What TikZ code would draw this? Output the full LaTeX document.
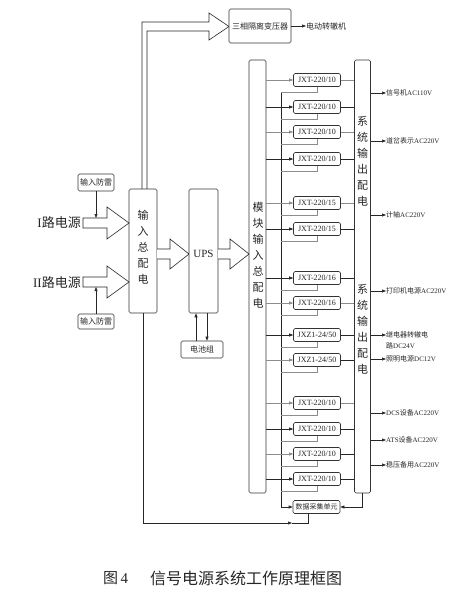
\documentclass[tikz,border=0pt]{standalone}
\usepackage{fontspec}
\setmainfont{Liberation Serif}
\newfontfamily\cjk{Noto Sans CJK SC}
\usetikzlibrary{arrows.meta}
\newcommand{\zh}[1]{{\cjk #1}}
\begin{document}
\begin{tikzpicture}[x=1pt,y=-1pt,
  ln/.style={line width=0.6pt, draw=black!85},
  lg/.style={line width=0.6pt, draw=black!45},
  tip/.style={-{Triangle[length=4pt,width=3pt]}},
  bx/.style={draw=black!80, line width=0.6pt, rounded corners=1.5pt, inner sep=0pt, fill=white, text=black!85},
  mod/.style={bx, minimum width=47pt, minimum height=13pt, font=\fontsize{8}{8}\selectfont},
  vt/.style={inner sep=0pt, align=center, text=black!85, font=\fontsize{11}{16}\selectfont\cjk},
  olab/.style={inner sep=0pt, anchor=west, text=black!85, font=\fontsize{7}{7}\selectfont},
  big/.style={inner sep=0pt, text=black!85, font=\fontsize{13}{13}\selectfont}
]
\useasboundingbox (0,0) rectangle (462,603);

% transformer branch
\draw[ln, fill=white] (142,189) -- (142,22) -- (209,22) -- (209,13) -- (229,26.5) -- (209,40) -- (209,31) -- (147,31) -- (147,189);
\node[bx, minimum width=62pt, minimum height=34pt, font=\fontsize{8}{8}\selectfont\cjk] (trans) at (260,26) {三相隔离变压器};
\node[olab, font=\fontsize{8}{8}\selectfont\cjk] (motor) at (306,26) {电动转辙机};
\draw[ln,tip] (trans.east) -- (motor.west);

% input distribution
\node[bx, minimum width=28pt, minimum height=124pt] (inbox) at (143,251) {};
\node[vt] (intext) at (143,247) {输\\入\\总\\配\\电};

% source arrows
\draw[ln, fill=white] (83,218) -- (107,218) -- (107,207) -- (129,223) -- (107,239) -- (107,228) -- (83,228) -- cycle;
\draw[ln, fill=white] (83,277) -- (107,277) -- (107,266) -- (129,282) -- (107,298) -- (107,287) -- (83,287) -- cycle;
\node[big, anchor=east] (l1) at (81,223) {I\zh{路电源}};
\node[big, anchor=east] (l2) at (81,283) {II\zh{路电源}};

\node[bx, minimum width=36pt, minimum height=17pt, font=\fontsize{8}{8}\selectfont\cjk] (fl1) at (96,182.5) {输入防雷};
\node[bx, minimum width=36pt, minimum height=15pt, font=\fontsize{8}{8}\selectfont\cjk] (fl2) at (96,321.5) {输入防雷};
\coordinate (s1) at (96,218);
\coordinate (s2) at (96,287);
\draw[ln,tip] (fl1.south) -- (s1);
\draw[ln,tip] (fl2.north) -- (s2);

% UPS
\draw[ln, fill=white] (157,249) -- (170,249) -- (170,239) -- (189,254) -- (170,269) -- (170,259) -- (157,259);
\node[bx, minimum width=29pt, minimum height=124pt] (ups) at (203.5,251) {};
\node[inner sep=0pt, text=black!85, font=\fontsize{11}{11}\selectfont] (upstext) at (203.5,254) {UPS};
\draw[ln, fill=white] (218,249) -- (230,249) -- (230,239) -- (249,254) -- (230,269) -- (230,259) -- (218,259);

\node[bx, minimum width=42pt, minimum height=17pt, font=\fontsize{8}{8}\selectfont\cjk] (batt) at (202,349.5) {电池组};
\draw[ln,tip] ([xshift=-7.5pt]ups.south |- batt.north) -- ([xshift=-7.5pt]ups.south);
\draw[ln,tip] ([xshift=3.5pt]ups.south) -- ([xshift=3.5pt]ups.south |- batt.north);

% module input distribution and system output distribution
\node[bx, minimum width=17pt, minimum height=433pt] (modin) at (257.5,276.5) {};
\node[vt] (modtext) at (258,255) {模\\块\\输\\入\\总\\配\\电};
\node[bx, minimum width=16pt, minimum height=433pt] (sysout) at (362.5,276.5) {};
\node[vt] (systext1) at (362.5,161.5) {系\\统\\输\\出\\配\\电};
\node[vt] (systext2) at (362.5,329) {系\\统\\输\\出\\配\\电};

% data bus
\coordinate (bt) at (281,93);
\node[mod, font=\fontsize{7}{7}\selectfont\cjk] (data) at (316.5,507) {数据采集单元};
\draw[ln,tip] (bt) |- (data.west);
\draw[ln,tip] (sysout.south) |- (data.east);

% modules
\foreach \y/\a/\b/\cl/\cr [count=\i] in {
  80/JXT-220/10/lg/lg, 107/JXT-220/10/ln/ln, 132/JXT-220/10/lg/lg, 159/JXT-220/10/ln/ln,
  203/JXT-220/15/lg/lg, 229/JXT-220/15/ln/ln,
  278/JXT-220/16/ln/ln, 303/JXT-220/16/lg/lg,
  335/JXZ1-24/50/ln/ln, 360/JXZ1-24/50/lg/ln,
  403/JXT-220/10/lg/lg, 429/JXT-220/10/ln/ln, 454/JXT-220/10/lg/ln, 479/JXT-220/10/ln/ln}{
  \draw[lg] (317,\y) -- ++(0,12.5) -- (bt |- 0,\y+12.5);
  \node[mod] (m\i) at (317,\y) {\a/\b};
  \draw[\cl,tip] (modin.east |- m\i.west) -- (m\i.west);
  \draw[\cr] (m\i.east) -- (sysout.west |- m\i.east);
}

% bottom feedback line
\coordinate (bl) at (143,523);
\coordinate (bm) at (292,523);
\draw[ln] (inbox.south) -- (bl);
\draw[ln,tip] (bl) -- (bm);
\draw[ln] (bm) -| ([xshift=-8.5pt]data.south);

% outputs
\foreach \y/\t [count=\i] in {
  93/{\zh{信号机}AC110V}, 141/{\zh{道岔表示}AC220V}, 215/{\zh{计轴}AC220V},
  291/{\zh{打印机电源}AC220V}, 335/{\zh{继电器转辙电}}, 359/{\zh{照明电源}DC12V},
  413/{DCS\zh{设备}AC220V}, 440/{ATS\zh{设备}AC220V}, 465/{\zh{稳压备用}AC220V}}{
  \node[olab] (o\i) at (386,\y) {\t};
  \draw[ln,tip] (sysout.east |- o\i.west) -- (o\i.west);
}
\node[olab] (o5b) at (386,346) {\zh{路}DC24V};

% caption
\node[inner sep=0pt, anchor=west, text=black!85, font=\fontsize{15}{15}\selectfont] (fig) at (103,578) {\zh{图}\,4};
\node[inner sep=0pt, anchor=west, text=black!85, font=\fontsize{16}{16}\selectfont\cjk] (cap) at (150,578) {信号电源系统工作原理框图};
\end{tikzpicture}
\end{document}
